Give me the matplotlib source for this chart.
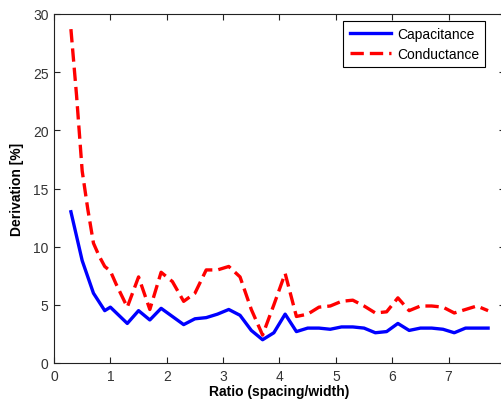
import matplotlib
matplotlib.use("Agg")
import matplotlib.pyplot as plt

plt.rcParams['font.family'] = ['Liberation Sans', 'DejaVu Sans']

cap_x = [0.3, 0.5, 0.7, 0.9, 1.0, 1.3, 1.5, 1.7, 1.9, 2.1, 2.3, 2.5, 2.7, 2.9, 3.1, 3.3, 3.5, 3.7,
         3.9, 4.1, 4.3, 4.5, 4.7, 4.9, 5.1, 5.3, 5.5, 5.7, 5.9, 6.1, 6.3, 6.5, 6.7, 6.9, 7.1, 7.3, 7.5, 7.7]
cap_y = [13.0, 8.8, 6.0, 4.5, 4.8, 3.4, 4.5, 3.7, 4.7, 4.0, 3.3, 3.8, 3.9, 4.2, 4.6, 4.1, 2.8, 2.0,
         2.6, 4.2, 2.7, 3.0, 3.0, 2.9, 3.1, 3.1, 3.0, 2.6, 2.7, 3.4, 2.8, 3.0, 3.0, 2.9, 2.6, 3.0, 3.0, 3.0]

con_x = [0.3, 0.4, 0.5, 0.6, 0.7, 0.8, 0.9, 1.0, 1.1, 1.3, 1.5, 1.7, 1.9, 2.1, 2.3, 2.5, 2.7, 2.9,
         3.1, 3.3, 3.5, 3.7, 3.9, 4.1, 4.3, 4.5, 4.7, 4.9, 5.1, 5.3, 5.5, 5.7, 5.9, 6.1, 6.3, 6.5,
         6.7, 6.9, 7.1, 7.3, 7.5, 7.7]
con_y = [28.7, 23.0, 16.5, 13.2, 10.3, 9.2, 8.3, 7.9, 6.8, 4.8, 7.4, 4.6, 7.8, 7.0, 5.3, 6.0, 8.0, 8.0,
         8.3, 7.4, 4.6, 2.4, 5.0, 7.7, 4.0, 4.2, 4.8, 4.9, 5.3, 5.4, 4.9, 4.3, 4.4, 5.6, 4.5, 4.9,
         4.9, 4.8, 4.3, 4.6, 4.9, 4.5]

x_ticks = [0, 1, 2, 3, 4, 5, 6, 7, 8]
y_ticks = [0, 5, 10, 15, 20, 25, 30]

fig = plt.figure(figsize=(5.02, 4.02), dpi=100)
ax = fig.add_axes([54/502, 38/402, 451/502, 349/402])

ax.plot(cap_x, cap_y, color='#0000ff', lw=2.4, label='Capacitance')
ax.plot(con_x, con_y, color='#ff0000', lw=2.4, ls=(0, (4, 1.8)), label='Conductance')

ax.set_xlim(0, 8)
ax.set_ylim(0, 30)
ax.set_xticks(x_ticks)
ax.set_yticks(y_ticks)
ax.set_xticklabels([str(t) for t in x_ticks[:-1]] + [''])
ax.tick_params(direction='in', top=True, right=True, labelsize=10, length=4, width=0.8,
               colors='#222222', labelcolor='#333333', pad=4)
for s in ax.spines.values():
    s.set_linewidth(0.8)
    s.set_color('#222222')

ax.set_xlabel('Ratio (spacing/width)', fontsize=10, fontweight='bold', labelpad=1)
ax.set_ylabel('Derivation [%]', fontsize=10, fontweight='bold', labelpad=6)

leg = ax.legend(loc='upper right', bbox_to_anchor=(431.3/451, 1 - 6.7/349), bbox_transform=ax.transAxes,
                fontsize=10, fancybox=False, framealpha=1, edgecolor='black', handlelength=3.0,
                borderpad=0.45, labelspacing=0.45, handletextpad=0.4, borderaxespad=0)
leg.get_frame().set_linewidth(0.8)

fig.savefig('out.png', dpi=100)
